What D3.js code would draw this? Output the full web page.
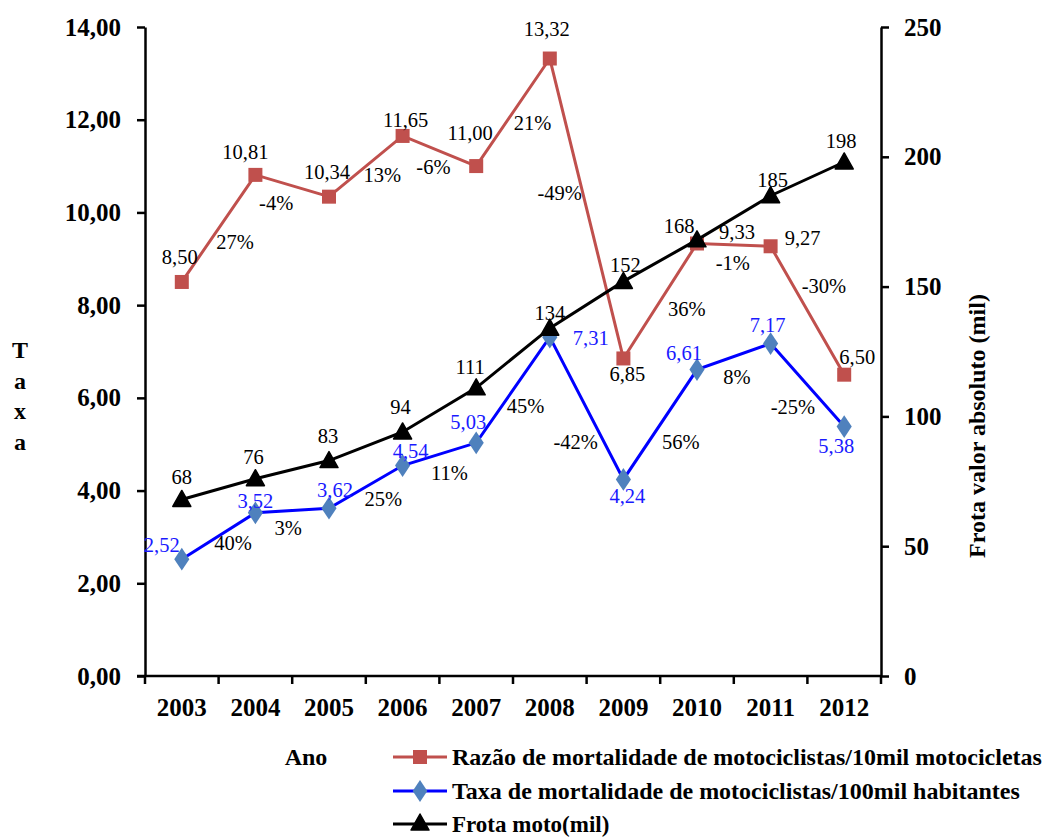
<!DOCTYPE html>
<html>
<head>
<meta charset="utf-8">
<script src="https://cdn.jsdelivr.net/npm/d3@7"></script>
<style>
  html, body { margin: 0; padding: 0; background: #fff; }
  svg { display: block; font-family: "Liberation Serif", "Times New Roman", serif; }
</style>
</head>
<body>
<svg id="chart" width="1043" height="838"></svg>
<script>
// ---------- data ----------
const years = ["2003","2004","2005","2006","2007","2008","2009","2010","2011","2012"];
const razao = [8.50, 10.81, 10.34, 11.65, 11.00, 13.32, 6.85, 9.33, 9.27, 6.50];
const taxa  = [2.52, 3.52, 3.62, 4.54, 5.03, 7.31, 4.24, 6.61, 7.17, 5.38];
const frota = [68, 76, 83, 94, 111, 134, 152, 168, 185, 198];
const razaoPct = ["27%","-4%","13%","-6%","21%","-49%","36%","-1%","-30%"];
const taxaPct  = ["40%","3%","25%","11%","45%","-42%","56%","8%","-25%"];
const leftTicks  = [0, 2, 4, 6, 8, 10, 12, 14];
const rightTicks = [0, 50, 100, 150, 200, 250];
const legendLabels = [
  "Razão de mortalidade de motociclistas/10mil motocicletas",
  "Taxa de mortalidade de motociclistas/100mil habitantes",
  "Frota moto(mil)"
];

// ---------- label placement (layout only) ----------
const razaoValOff = [[-2,-25],[-10,-23],[-2,-25],[3,-16],[-6,-33],[-3,-30],[4,16],[40,-11],[32,-8],[13,-18]];
const taxaValOff  = [[-20,-14],[0,-12],[6,-18],[8,-15],[-8,-21],[41,1],[4,17],[-13,-17],[-3,-19],[-8,19]];
const frotaValOff = [[0,-22],[-2,-22],[-1,-25],[-2,-25],[-6,-21],[0,-15],[2,-16],[-18,-14],[2,-16],[-3,-21]];
const razaoPctOff = [[16.5,13.5],[-16,17],[16.5,8.6],[-6,16],[19.5,11],[-27,-15.5],[26.5,8],[-1,18],[16.5,-24.5]];
const taxaPctOff  = [[14.5,7],[-4,17.5],[17.5,12],[10,19],[12.5,16],[-11,34],[20.5,17.4],[3,20.4],[-14.5,22]];

const RED = "#C0504D", BLUE_LINE = "#0000FF", BLUE_MARK = "#4F81BD", BLUE_TEXT = "#1a1aff";
const FONT = "Liberation Serif";

const svg = d3.select("#chart");
const L = 145, R = 881, T = 27, B = 676;

const x = d3.scaleBand().domain(years).range([L, R]).padding(0);
const yL = d3.scaleLinear().domain([0, 14]).range([B, T]);
const yR = d3.scaleLinear().domain([0, 250]).range([B, T]);
const cx = d => x(d) + x.bandwidth() / 2;
const fmt = d => d3.format(".2f")(d).replace(".", ",");

// ---------- axes ----------
const axL = svg.append("g").attr("transform", `translate(${L},0)`)
  .call(d3.axisLeft(yL).tickValues(leftTicks).tickFormat(fmt).tickSize(8).tickSizeOuter(0).tickPadding(16));
const axR = svg.append("g").attr("transform", `translate(${R},0)`)
  .call(d3.axisRight(yR).tickValues(rightTicks).tickFormat(d3.format("d")).tickSize(8).tickSizeOuter(0).tickPadding(15));
const axB = svg.append("g").attr("transform", `translate(0,${B})`)
  .call(d3.axisBottom(x).tickSize(0).tickSizeOuter(0).tickPadding(22));
// ticks at band boundaries
axB.selectAll(".bnd").data(years.concat(["end"])).enter().append("line")
  .attr("x1", d => d === "end" ? x.range()[1] : x(d))
  .attr("x2", d => d === "end" ? x.range()[1] : x(d))
  .attr("y1", 0).attr("y2", 8).attr("stroke", "#000").attr("stroke-width", 2.5);

[axL, axR, axB].forEach(a => {
  a.attr("font-family", FONT);
  a.select(".domain").attr("stroke", "#000").attr("stroke-width", 2.5);
  a.selectAll(".tick line").attr("stroke", "#000").attr("stroke-width", 2.5);
  a.selectAll(".tick text").attr("fill", "#000").attr("font-family", FONT)
    .attr("font-weight", "bold").attr("font-size", 25);
});
axB.select(".domain").attr("d", `M${L - 8},0H${R}`);

// axis titles
const taxaLetters = ["T", "a", "x", "a"];
svg.append("g").selectAll("text").data(taxaLetters).enter().append("text")
  .attr("x", 20).attr("y", (d, i) => 358 + i * 30.7)
  .attr("text-anchor", "middle").attr("font-weight", "bold").attr("font-size", 24)
  .text(d => d);
svg.append("text")
  .attr("transform", "translate(985,426) rotate(-90)")
  .attr("text-anchor", "middle").attr("font-weight", "bold").attr("font-size", 24)
  .text("Frota valor absoluto (mil)");

// ---------- series ----------
const lineL = d3.line().x((d, i) => cx(years[i])).y(d => yL(d));
const lineR = d3.line().x((d, i) => cx(years[i])).y(d => yR(d));

// red
svg.append("path").datum(razao).attr("d", lineL).attr("fill", "none")
  .attr("stroke", RED).attr("stroke-width", 3);
svg.append("g").selectAll("rect").data(razao).enter().append("rect")
  .attr("x", (d, i) => cx(years[i]) - 7).attr("y", d => yL(d) - 7)
  .attr("width", 14).attr("height", 14).attr("fill", RED);

// blue
svg.append("path").datum(taxa).attr("d", lineL).attr("fill", "none")
  .attr("stroke", BLUE_LINE).attr("stroke-width", 3);
svg.append("g").selectAll("path").data(taxa).enter().append("path")
  .attr("d", d3.symbol().type(d3.symbolDiamond).size(150))
  .attr("transform", (d, i) => `translate(${cx(years[i])},${yL(d)}) scale(1.15,1)`)
  .attr("fill", BLUE_MARK);

// black
svg.append("path").datum(frota).attr("d", lineR).attr("fill", "none")
  .attr("stroke", "#000").attr("stroke-width", 3);
const tri = "M0,-9L9,7L-9,7Z";
svg.append("g").selectAll("path").data(frota).enter().append("path")
  .attr("d", tri)
  .attr("transform", (d, i) => `translate(${cx(years[i])},${yR(d)})`)
  .attr("fill", "#000").attr("stroke", "#000").attr("stroke-width", 1.5).attr("stroke-linejoin", "round");

// ---------- labels ----------
function valueLabels(vals, yScale, off, color, textFn) {
  svg.append("g").selectAll("text").data(vals).enter().append("text")
    .attr("x", (d, i) => cx(years[i]) + off[i][0])
    .attr("y", (d, i) => yScale(d) + off[i][1])
    .attr("text-anchor", "middle").attr("dominant-baseline", "central")
    .attr("font-size", 20.5).attr("fill", color)
    .text(textFn);
}
valueLabels(razao, yL, razaoValOff, "#000", fmt);
valueLabels(taxa, yL, taxaValOff, BLUE_TEXT, fmt);
valueLabels(frota, yR, frotaValOff, "#000", d => d);

function pctLabels(vals, pct, off) {
  svg.append("g").selectAll("text").data(pct).enter().append("text")
    .attr("x", (d, i) => (cx(years[i]) + cx(years[i + 1])) / 2 + off[i][0])
    .attr("y", (d, i) => (yL(vals[i]) + yL(vals[i + 1])) / 2 + off[i][1])
    .attr("text-anchor", "middle").attr("dominant-baseline", "central")
    .attr("font-size", 20.5).attr("fill", "#000")
    .text(d => d);
}
pctLabels(razao, razaoPct, razaoPctOff);
pctLabels(taxa, taxaPct, taxaPctOff);

// ---------- legend ----------
svg.append("text").attr("x", 306).attr("y", 765).attr("text-anchor", "middle")
  .attr("font-weight", "bold").attr("font-size", 24).text("Ano");

const legY = [757, 791, 824];
const legColors = [RED, BLUE_LINE, "#000"];
const leg = svg.append("g");
legendLabels.forEach((lab, i) => {
  const g = leg.append("g").attr("transform", `translate(0,${legY[i]})`);
  g.append("line").attr("x1", 393).attr("x2", 447).attr("y1", 0).attr("y2", 0)
    .attr("stroke", legColors[i]).attr("stroke-width", 3);
  if (i === 0) g.append("rect").attr("x", 413).attr("y", -7).attr("width", 14).attr("height", 14).attr("fill", RED);
  if (i === 1) g.append("path").attr("d", d3.symbol().type(d3.symbolDiamond).size(140)())
    .attr("transform", "translate(420,0) scale(1.15,1)").attr("fill", BLUE_MARK);
  if (i === 2) g.append("path").attr("d", tri).attr("transform", "translate(420,-1)")
    .attr("fill", "#000").attr("stroke", "#000").attr("stroke-width", 1.5).attr("stroke-linejoin", "round");
  g.append("text").attr("x", 452).attr("y", 0).attr("dominant-baseline", "central")
    .attr("font-weight", "bold").attr("font-size", i === 2 ? 23 : 24).text(lab);
});
</script>
</body>
</html>
